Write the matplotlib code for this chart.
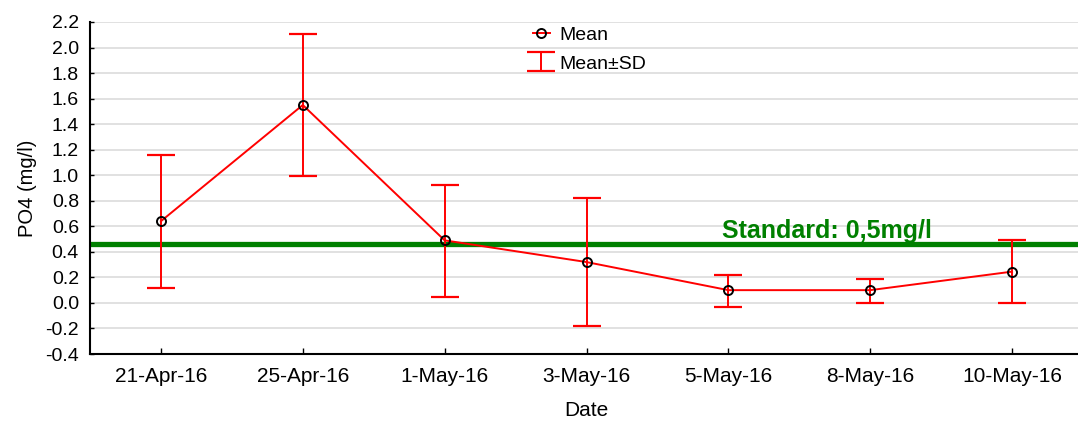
import matplotlib
matplotlib.use("Agg")
import matplotlib.pyplot as plt
import numpy as np

plt.rcParams['font.family'] = ['Liberation Sans', 'DejaVu Sans']

# Sampling dates and phosphate statistics
dates = ["21-Apr-16", "25-Apr-16", "1-May-16", "3-May-16", "5-May-16", "8-May-16", "10-May-16"]
mean_po4 = [0.64, 1.55, 0.49, 0.32, 0.10, 0.10, 0.245]
sd_upper = [1.155, 2.105, 0.925, 0.82, 0.22, 0.19, 0.49]
sd_lower = [0.12, 0.995, 0.05, -0.18, -0.03, 0.00, 0.00]
standard_value = 0.465
standard_label = "Standard: 0,5mg/l"
y_ticks = [-0.4, -0.2, 0.0, 0.2, 0.4, 0.6, 0.8, 1.0, 1.2, 1.4, 1.6, 1.8, 2.0, 2.2]

W, H = 1078, 423
fig = plt.figure(figsize=(W / 100, H / 100), dpi=100)
ax = fig.add_axes([90 / W, (H - 354) / H, (1083 - 90) / W, (354 - 22) / H])

x = np.arange(len(dates))
mean_arr = np.array(mean_po4)
yerr = np.vstack([mean_arr - np.array(sd_lower), np.array(sd_upper) - mean_arr])

ax.grid(axis='y', color='#dcdcdc', linewidth=1.2, zorder=0)
ax.set_axisbelow(True)

ax.axhline(standard_value, color='#008000', linewidth=3.8, zorder=2)
ax.text(3.956, 0.509, standard_label, color='#008000', fontsize=18,
        fontweight='bold', va='baseline', ha='left', zorder=5)

eb = ax.errorbar(x, mean_po4, yerr=yerr, fmt='none', ecolor='red',
                 elinewidth=1.4, capsize=10, capthick=1.6, zorder=3,
                 label="Mean\u00b1SD")
ln, = ax.plot(x, mean_po4, color='red', linewidth=1.4, marker='o',
              markersize=6.5, markerfacecolor='none', markeredgecolor='black',
              markeredgewidth=1.4, zorder=4, label="Mean")

ax.set_xlim(-0.5, 6.5)
ax.set_ylim(-0.4, 2.2)
ax.set_yticks(y_ticks)
ax.set_yticklabels([f"{v:.1f}" for v in y_ticks])
ax.set_xticks(x)
ax.set_xticklabels(dates)

for s in ['top', 'right']:
    ax.spines[s].set_visible(False)
for s in ['left', 'bottom']:
    ax.spines[s].set_linewidth(1.5)
    ax.spines[s].set_color('black')

ax.tick_params(axis='y', direction='in', length=3, width=1, pad=8, labelsize=14)
ax.tick_params(axis='x', direction='in', length=4, width=1, pad=9, labelsize=15)

ax.set_ylabel("PO4 (mg/l)", fontsize=14.5, labelpad=6)
ax.set_xlabel("Date", fontsize=15, labelpad=11)

leg = ax.legend(handles=[ln, eb], loc='upper left',
                bbox_to_anchor=(429 / 993, 1.027),
                frameon=False, fontsize=14, handlelength=0.9,
                handletextpad=0.5, labelspacing=0.55, borderpad=0.2)

fig.savefig("out.png", dpi=100)
